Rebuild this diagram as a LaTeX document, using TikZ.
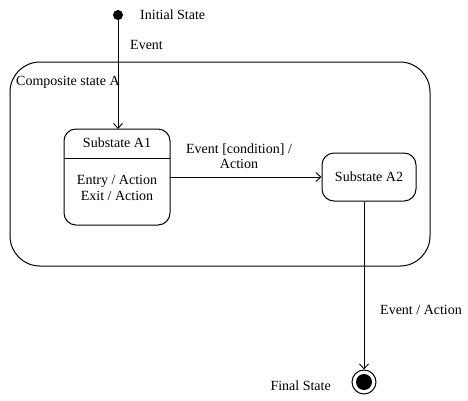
\documentclass[tikz,border=0pt]{standalone}
\usepackage{fontspec}
\setmainfont{Liberation Serif}
\usetikzlibrary{arrows.meta}
\begin{document}
\begin{tikzpicture}[x=1pt,y=-1pt,
  every node/.style={font=\fontsize{14}{16.5}\selectfont, inner sep=0pt},
  conn/.style={line width=0.9pt,-{Straight Barb[length=5pt,width=9pt]}},
  statebox/.style={draw,line width=1pt,rounded corners=12pt}]
\useasboundingbox (0,0) rectangle (468,400);
% composite
\draw[line width=1pt,rounded corners=30pt] (10,62) rectangle (430,266);
\node[anchor=west] (comp) at (16,82) {Composite state A};
% initial
\fill (118,15) circle (5) coordinate (init);
\node[anchor=west] (initlbl) at (140,15) {Initial State};
\node[anchor=west] (ev1) at (130,45) {Event};
% Substate A1
\draw[statebox] (64,129) rectangle (170,225);
\coordinate (a1top) at (118,129);
\coordinate (a1right) at (170,177);
\draw[line width=0.9pt] (64,158) -- (170,158);
\node (a1name) at (117,143) {Substate A1};
\node[align=center] (a1body) at (117,188) {Entry / Action\\[-1pt]Exit / Action};
% Substate A2
\node[statebox, minimum width=94pt, minimum height=48pt] (a2) at (369,177) {Substate A2};
% final
\node[draw,circle,line width=1pt,minimum size=24pt] (final) at (364,382) {};
\fill (final.center) circle (8);
\node[anchor=east] (finlbl) at (331,386) {Final State};
% transitions
\draw[conn] (init) -- (a1top);
\draw[conn] (a1right) -- (a2.west |- a1right);
\node[align=center] (ev2) at (239,156) {Event [condition] /\\[-1pt]Action};
\draw[conn] (a2.south -| final.north) -- (final.north);
\node[anchor=west] (ev3) at (380,310) {Event / Action};
\end{tikzpicture}
\end{document}
